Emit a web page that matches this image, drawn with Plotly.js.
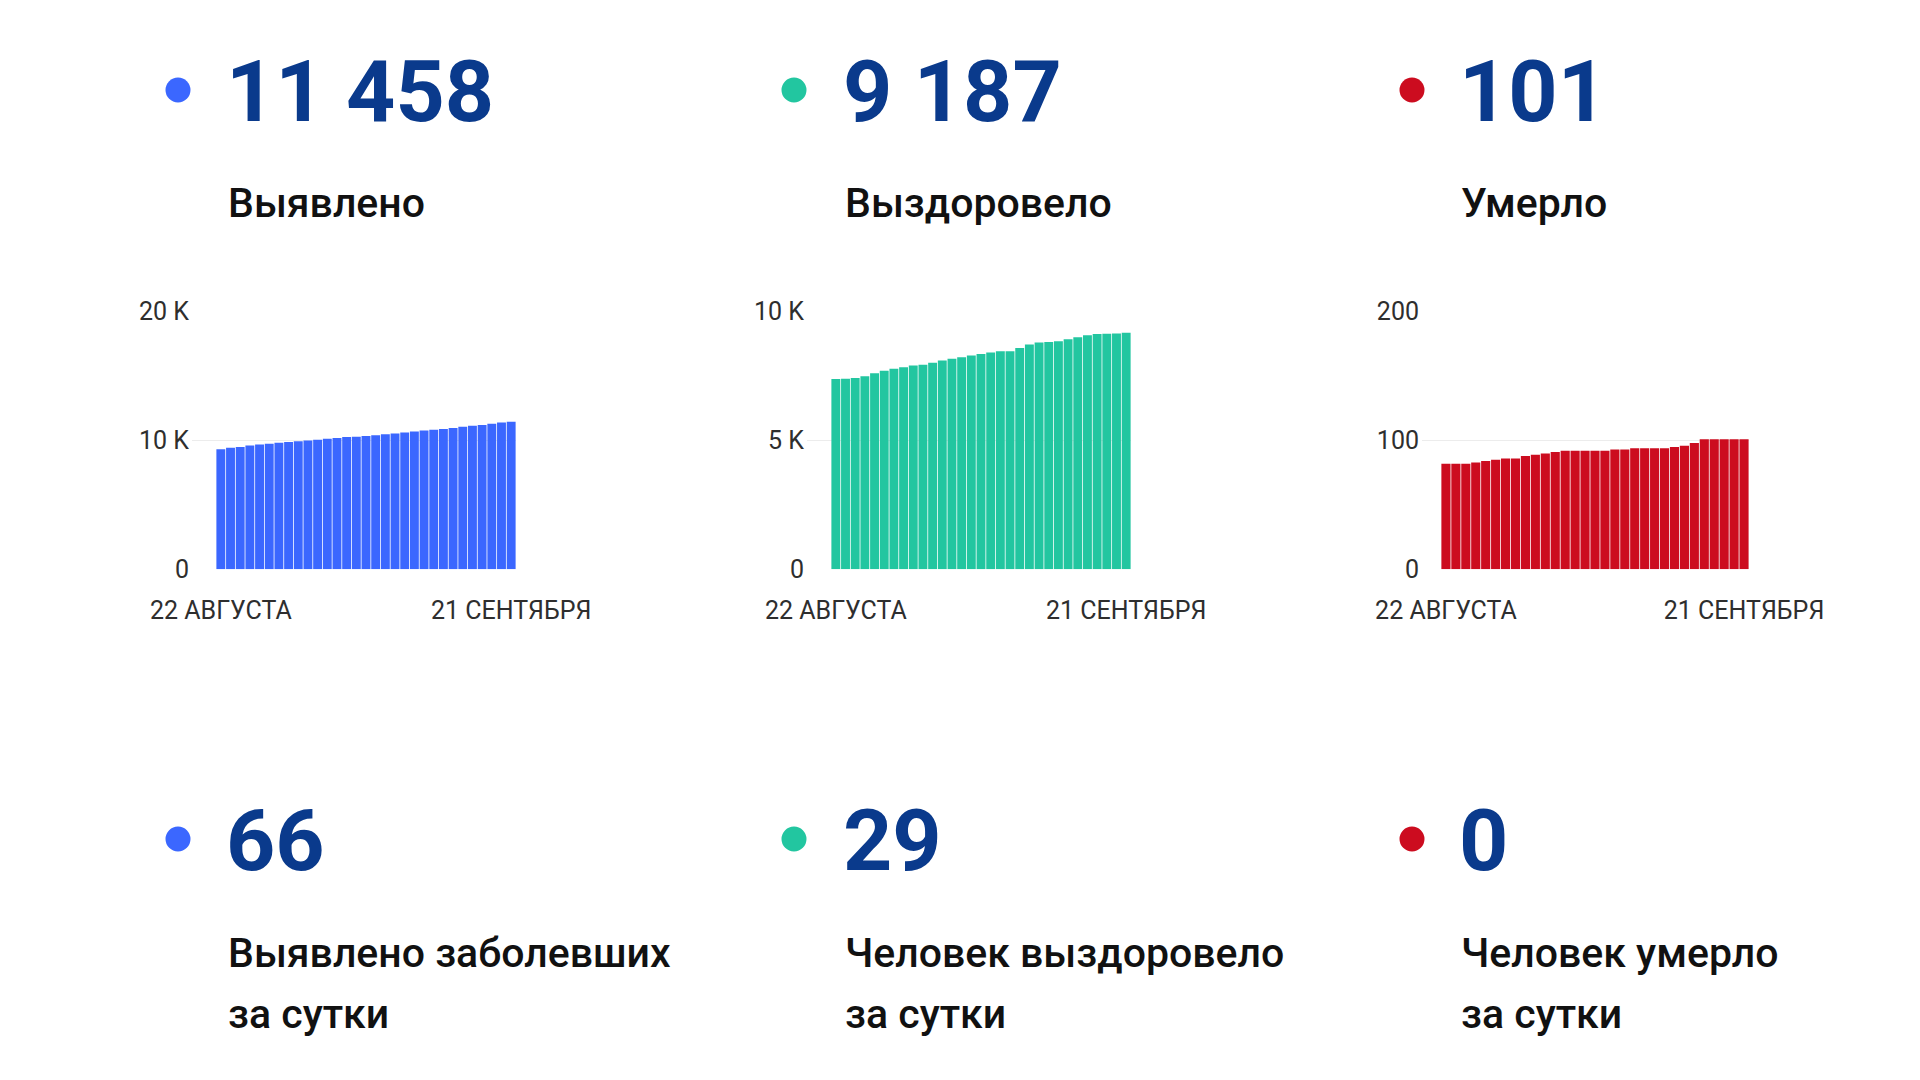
<!DOCTYPE html>
<html>
<head>
<meta charset="utf-8">
<script src="https://cdn.plot.ly/plotly-3.0.1.min.js"></script>
<style>
  html, body { margin: 0; padding: 0; background: #ffffff; }
  #chart { width: 1920px; height: 1080px; }
</style>
</head>
<body>
<div id="chart"></div>
<script>
// ---- data ----
const dates = [
  "2020-08-22","2020-08-23","2020-08-24","2020-08-25","2020-08-26","2020-08-27","2020-08-28",
  "2020-08-29","2020-08-30","2020-08-31","2020-09-01","2020-09-02","2020-09-03","2020-09-04",
  "2020-09-05","2020-09-06","2020-09-07","2020-09-08","2020-09-09","2020-09-10","2020-09-11",
  "2020-09-12","2020-09-13","2020-09-14","2020-09-15","2020-09-16","2020-09-17","2020-09-18",
  "2020-09-19","2020-09-20","2020-09-21"
];
const xTickText = ["22 АВГУСТА", "21 СЕНТЯБРЯ"];

const detected = [9330, 9430, 9490, 9615, 9690, 9745, 9820, 9875, 9950, 10000, 10055,
  10135, 10190, 10270, 10300, 10350, 10405, 10485, 10540, 10620, 10700, 10780, 10840,
  10890, 10970, 11060, 11140, 11200, 11300, 11392, 11458];
const recovered = [7383, 7396, 7422, 7499, 7615, 7705, 7782, 7847, 7911, 7937, 8014,
  8104, 8169, 8233, 8298, 8362, 8414, 8465, 8465, 8594, 8723, 8800, 8826, 8852, 8929,
  9007, 9084, 9135, 9145, 9158, 9187];
const died = [82, 82, 82, 83, 84, 85, 86, 86, 88, 89, 90, 91, 92, 92, 92, 92, 92, 93,
  93, 94, 94, 94, 94, 95, 96, 98, 101, 101, 101, 101, 101];

const totals = ["11 458", "9 187", "101"];
const totalLabels = ["Выявлено", "Выздоровело", "Умерло"];
const daily = ["66", "29", "0"];
const dailyLabels1 = ["Выявлено заболевших", "Человек выздоровело", "Человек умерло"];
const dailyLabels2 = ["за сутки", "за сутки", "за сутки"];

const yTickVals = [[0, 10000, 20000], [0, 5000, 10000], [0, 100, 200]];
const yTickText = [["0", "10 K", "20 K"], ["0", "5 K", "10 K"], ["0", "100", "200"]];
const series = [detected, recovered, died];
const colors = ["#3b67ff", "#22c6a0", "#cc0c1f"];

// ---- layout helpers (page pixel -> paper) ----
const W = 1920, H = 1080;
const px = v => v / W;
const py = v => 1 - v / H;

const plotBox = [
  {x0: 192, x1: 516, pad: 2.48},
  {x0: 807, x1: 1131, pad: 2.48},
  {x0: 1422, x1: 1749, pad: 1.91}
];
const yTop = 311.7, yBot = 569.3;

const colX = [228, 845, 1461];
const dotX = [178, 794, 1412];

const font = "Roboto, 'Noto Sans', sans-serif";
const tickFont = {family: font, size: 25, color: "#2e2e2e"};

const traces = [];
const layout = {
  width: W, height: H,
  margin: {l: 0, r: 0, t: 0, b: 0, pad: 0},
  paper_bgcolor: "#ffffff",
  plot_bgcolor: "rgba(0,0,0,0)",
  showlegend: false,
  bargap: 0.08,
  annotations: [],
  shapes: []
};

for (let i = 0; i < 3; i++) {
  const xa = i === 0 ? "x" : "x" + (i + 1);
  const ya = i === 0 ? "y" : "y" + (i + 1);
  const xk = i === 0 ? "xaxis" : "xaxis" + (i + 1);
  const yk = i === 0 ? "yaxis" : "yaxis" + (i + 1);
  traces.push({
    type: "bar", x: dates, y: series[i], xaxis: xa, yaxis: ya,
    marker: {color: colors[i], line: {width: 0}},
    hoverinfo: "x+y"
  });
  const b = plotBox[i];
  layout[xk] = {
    domain: [px(b.x0), px(b.x1)],
    anchor: ya,
    type: "category",
    range: [-0.5 - b.pad, dates.length - 0.5],
    tickmode: "array",
    tickvals: [dates[0], dates[dates.length - 1]],
    ticktext: xTickText,
    showgrid: false, zeroline: false, showline: false,
    ticks: "", ticklen: 0,
    ticklabelstandoff: 24,
    tickfont: tickFont,
    fixedrange: true
  };
  layout[yk] = {
    domain: [py(yBot), py(yTop)],
    anchor: xa,
    range: [0, yTickVals[i][2]],
    tickmode: "array",
    tickvals: yTickVals[i],
    ticktext: yTickText[i],
    showgrid: true, gridcolor: "#ececec", gridwidth: 1.5,
    zeroline: false, showline: false,
    ticks: "", ticklen: 0,
    ticklabelstandoff: 2,
    tickfont: tickFont,
    fixedrange: true
  };

  // top block
  layout.shapes.push({type: "circle", xref: "paper", yref: "paper",
    x0: px(dotX[i] - 12.5), x1: px(dotX[i] + 12.5), y0: py(90 + 12.5), y1: py(90 - 12.5),
    fillcolor: colors[i], line: {width: 0}});
  layout.annotations.push({xref: "paper", yref: "paper", x: px(colX[i] - 4), y: py(91),
    xanchor: "left", yanchor: "middle", showarrow: false, text: totals[i],
    font: {family: font, size: 86, weight: 700, color: "#0a3a8c"}});
  layout.annotations.push({xref: "paper", yref: "paper", x: px(colX[i] - 2), y: py(203),
    xanchor: "left", yanchor: "middle", showarrow: false, text: totalLabels[i],
    font: {family: font, size: 41, weight: 500, color: "#111111"}});

  // bottom block
  layout.shapes.push({type: "circle", xref: "paper", yref: "paper",
    x0: px(dotX[i] - 12.5), x1: px(dotX[i] + 12.5), y0: py(839 + 12.5), y1: py(839 - 12.5),
    fillcolor: colors[i], line: {width: 0}});
  layout.annotations.push({xref: "paper", yref: "paper", x: px(colX[i] - 4), y: py(840),
    xanchor: "left", yanchor: "middle", showarrow: false, text: daily[i],
    font: {family: font, size: 86, weight: 700, color: "#0a3a8c"}});
  layout.annotations.push({xref: "paper", yref: "paper", x: px(colX[i] - 2), y: py(953),
    xanchor: "left", yanchor: "middle", showarrow: false, text: dailyLabels1[i],
    font: {family: font, size: 41, weight: 500, color: "#111111"}});
  layout.annotations.push({xref: "paper", yref: "paper", x: px(colX[i] - 2), y: py(1014),
    xanchor: "left", yanchor: "middle", showarrow: false, text: dailyLabels2[i],
    font: {family: font, size: 41, weight: 500, color: "#111111"}});
}

Plotly.newPlot("chart", traces, layout, {displayModeBar: false, staticPlot: true});
</script>
</body>
</html>
